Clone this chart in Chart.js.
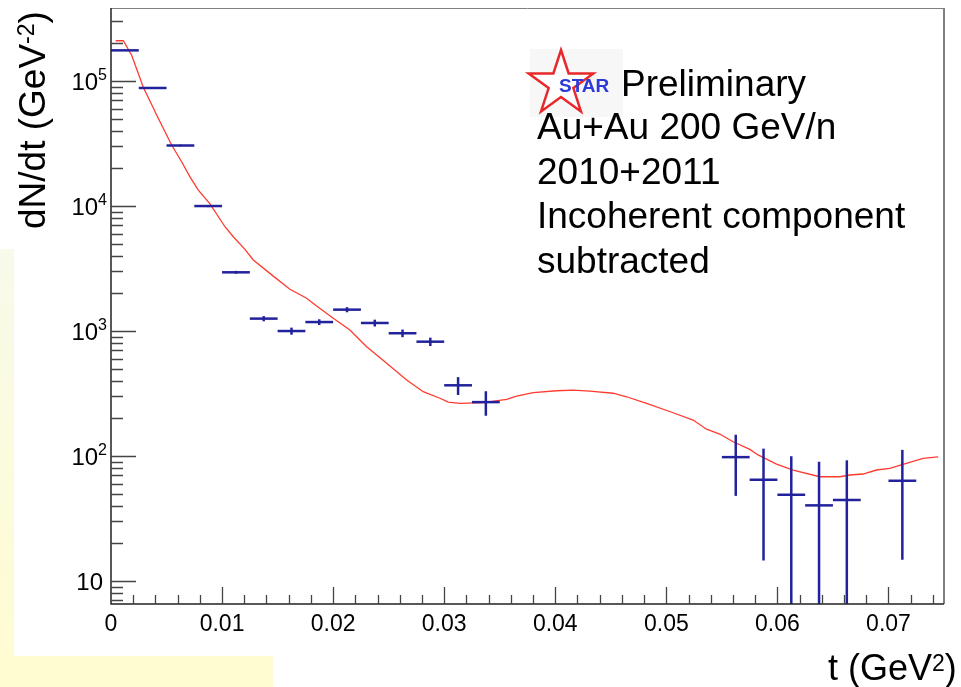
<!DOCTYPE html>
<html>
<head>
<meta charset="utf-8">
<script src="https://cdn.jsdelivr.net/npm/chart.js@4.4.1/dist/chart.umd.min.js"></script>
<style>
  body { margin: 0; background: #fff; }
</style>
</head>
<body>
<canvas id="myChart" width="961" height="687"></canvas>
<script>
// measured points: bin centre in t (GeV^2), dN/dt, symmetric error
const binCentres = [0.00125, 0.00375, 0.00625, 0.00875, 0.01125, 0.01375, 0.01625, 0.01875, 0.02125, 0.02375,
                    0.02625, 0.02875, 0.03125, 0.03375, 0.05625, 0.05875, 0.06125, 0.06375, 0.06625, 0.07125];
const binHalfWidth = 0.00125;
const counts = [176000, 88000, 30500, 10000, 2950, 1257, 1000, 1180, 1483, 1160,
                960, 822, 368, 270, 98, 64.6, 49, 40.3, 44.5, 63.4];
const countErrors = [2000, 1200, 500, 200, 80, 60, 65, 62, 70, 73,
                     67, 63, 60, 60, 50, 50, 50.6, 49.7, 47.9, 48.6];

// model curve (red)
const curveT = [0.00042, 0.00111, 0.00186, 0.00246, 0.00291, 0.00411, 0.00546, 0.00636, 0.00711, 0.00786,
                0.00891, 0.01026, 0.01101, 0.01206, 0.01281, 0.01461, 0.01611, 0.01761, 0.01851, 0.02001,
                0.02151, 0.02302, 0.02482, 0.02662, 0.02811, 0.02961, 0.03036, 0.03141, 0.03351, 0.03562,
                0.03652, 0.03801, 0.04012, 0.04161, 0.04311, 0.04521, 0.04642, 0.04822, 0.05061, 0.05241,
                0.05362, 0.05481, 0.05601, 0.05752, 0.05826, 0.05992, 0.06141, 0.06382, 0.06562, 0.06652,
                0.06771, 0.06892, 0.07012, 0.07131, 0.07311, 0.07447];
const curveY = [210000, 210000, 161000, 115000, 89000, 53500, 30800, 22600, 17100, 13400,
                10400, 6830, 5680, 4500, 3700, 2750, 2160, 1830, 1585, 1264,
                1019, 749, 552, 405, 327, 290, 270, 264, 267, 284,
                302, 321, 333, 337, 331, 318, 298, 264, 222, 194,
                164, 150, 130, 113, 102, 86.3, 77.3, 68.3, 68.3, 70.5,
                71.8, 77.3, 79.8, 85.9, 95.9, 98.6];

// axes
const xMin = 0, xMax = 0.075;
const yMin = 6.55, yMax = 384000;
const xMajorTicks = [0, 0.01, 0.02, 0.03, 0.04, 0.05, 0.06, 0.07];
const xTickLabels = ['0', '0.01', '0.02', '0.03', '0.04', '0.05', '0.06', '0.07'];
const xMinorStep = 0.002;
const yMajorTicks = [10, 100, 1000, 10000, 100000];
const yTickExponents = ['', '2', '3', '4', '5'];

const legendLines = ['Au+Au 200 GeV/n', '2010+2011', 'Incoherent component', 'subtracted'];

const blue = '#22229c';
const red = '#ff3b30';
const FONT = '"Liberation Sans", Arial, Helvetica, sans-serif';

// text with a raised part, e.g. 10^5 or GeV^2
function drawSup(c, base, sup, tail, x, y, size, supSize, raise, align) {
  c.font = size + 'px ' + FONT;
  const wb = c.measureText(base).width;
  const wt = c.measureText(tail).width;
  c.font = supSize + 'px ' + FONT;
  const ws = c.measureText(sup).width;
  let x0 = x;
  if (align === 'right') x0 = x - wb - ws - wt;
  c.textAlign = 'left';
  c.font = size + 'px ' + FONT;
  c.fillText(base, x0, y);
  c.font = supSize + 'px ' + FONT;
  c.fillText(sup, x0 + wb, y - size * raise);
  c.font = size + 'px ' + FONT;
  c.fillText(tail, x0 + wb + ws, y);
}

function drawStar(c, cx, cy, R, r) {
  c.beginPath();
  for (let i = 0; i < 10; i++) {
    const rad = -Math.PI / 2 + i * Math.PI / 5;
    const rr = i % 2 ? r : R;
    const px = cx + rr * Math.cos(rad), py = cy + rr * Math.sin(rad);
    if (i) c.lineTo(px, py); else c.moveTo(px, py);
  }
  c.closePath();
}

const rootStyle = {
  id: 'rootStyle',
  beforeDraw(chart) {
    const c = chart.ctx;
    c.save();
    c.fillStyle = '#fff';
    c.fillRect(0, 0, chart.width, chart.height);
    // yellow sticky note peeking out behind the plot
    const g = c.createLinearGradient(0, 249, 0, 687);
    g.addColorStop(0, '#f8faea');
    g.addColorStop(1, '#fffcd0');
    c.fillStyle = g;
    c.fillRect(0, 249, 273, 438);
    c.fillStyle = '#fff';
    c.fillRect(14, 0, chart.width - 14, 656);
    c.restore();
  },
  afterDatasetsDraw(chart) {
    const c = chart.ctx;
    const a = chart.chartArea;
    const xs = chart.scales.x, ys = chart.scales.y;

    // vertical error bars
    c.save();
    c.beginPath();
    c.rect(a.left, a.top, a.right - a.left, a.bottom - a.top);
    c.clip();
    c.strokeStyle = blue;
    c.lineWidth = 2.5;
    binCentres.forEach((t, i) => {
      const px = xs.getPixelForValue(t);
      const lo = Math.max(counts[i] - countErrors[i], 0);
      const hi = counts[i] + countErrors[i];
      c.beginPath();
      c.moveTo(px, ys.getPixelForValue(lo));
      c.lineTo(px, ys.getPixelForValue(hi));
      c.stroke();
    });
    c.restore();

    // frame
    c.save();
    c.strokeStyle = '#808080';
    c.lineWidth = 1;
    c.beginPath();
    c.moveTo(a.left, a.top + 0.5);
    c.lineTo(a.right, a.top + 0.5);
    c.stroke();
    c.lineWidth = 2;
    c.beginPath();
    c.moveTo(a.right, a.top);
    c.lineTo(a.right, a.bottom);
    c.stroke();
    c.strokeStyle = '#222';
    c.lineWidth = 1.5;
    c.beginPath();
    c.moveTo(a.left, a.top);
    c.lineTo(a.left, a.bottom);
    c.lineTo(a.right, a.bottom);
    c.stroke();

    // ticks, drawn inwards like ROOT
    c.strokeStyle = '#444';
    c.lineWidth = 1.3;
    c.beginPath();
    for (let e = 0; e <= 5; e++) {
      for (let m = 1; m <= 9; m++) {
        const v = m * Math.pow(10, e);
        if (v < yMin || v > yMax) continue;
        const py = Math.round(ys.getPixelForValue(v)) + 0.5;
        const len = m === 1 ? 25 : 12;
        c.moveTo(a.left, py);
        c.lineTo(a.left + len, py);
      }
    }
    const nMinor = Math.floor((xMax - xMin) / xMinorStep + 1e-9);
    for (let i = 1; i <= nMinor; i++) {
      const v = xMin + i * xMinorStep;
      const px = Math.round(xs.getPixelForValue(v)) + 0.5;
      const major = Math.abs(v / 0.01 - Math.round(v / 0.01)) < 1e-6;
      c.moveTo(px, a.bottom);
      c.lineTo(px, a.bottom - (major ? 17 : 9));
    }
    c.stroke();
    c.restore();
  },
  afterDraw(chart) {
    const c = chart.ctx;
    const a = chart.chartArea;
    const xs = chart.scales.x, ys = chart.scales.y;
    c.save();
    c.fillStyle = '#000';
    c.textBaseline = 'alphabetic';

    // tick labels
    yMajorTicks.forEach((v, i) => {
      const py = ys.getPixelForValue(v);
      const exp = yTickExponents[i];
      drawSup(c, '10', exp, '', exp ? 107 : 103, py + 9, 24, 16, 0.4, 'right');
    });
    c.font = '23px ' + FONT;
    c.textAlign = 'center';
    xMajorTicks.forEach((v, i) => {
      c.fillText(xTickLabels[i], xs.getPixelForValue(v), a.bottom + 27);
    });

    // axis titles
    drawSup(c, 't (GeV', '2', ')', 828, 680, 36, 23, 0.25, 'left');
    c.save();
    c.translate(45, 229);
    c.rotate(-Math.PI / 2);
    drawSup(c, 'dN/dt (GeV', '-2', ')', 0, 0, 37, 23, 0.3, 'left');
    c.restore();

    // STAR logo
    c.fillStyle = '#f7f7f7';
    c.fillRect(530, 49, 93, 68);
    drawStar(c, 561, 84, 34, 13);
    c.fillStyle = '#fff';
    c.fill();
    c.strokeStyle = '#e8282a';
    c.lineWidth = 2.5;
    c.stroke();
    c.fillStyle = '#2c3ad8';
    c.font = 'bold 19px ' + FONT;
    c.textAlign = 'left';
    c.fillText('STAR', 559, 92);

    c.fillStyle = '#000';
    c.font = '37px ' + FONT;
    c.fillText('Preliminary', 621, 96);
    legendLines.forEach((s, i) => c.fillText(s, 537, 139 + i * 44.7));
    c.restore();
  }
};

const ctx = document.getElementById('myChart');
new Chart(ctx, {
  type: 'scatter',
  data: {
    datasets: [{
      label: 'data',
      data: binCentres.map((t, i) => ({ x: t, y: counts[i] })),
      showLine: false,
      pointStyle: 'line',
      pointRadius: c => c.chart.scales.x.getPixelForValue(binHalfWidth) - c.chart.scales.x.getPixelForValue(0),
      pointHoverRadius: c => c.chart.scales.x.getPixelForValue(binHalfWidth) - c.chart.scales.x.getPixelForValue(0),
      borderColor: blue,
      backgroundColor: blue,
      pointBorderWidth: 2.5
    }, {
      label: 'model',
      type: 'line',
      data: curveT.map((t, i) => ({ x: t, y: curveY[i] })),
      borderColor: red,
      borderWidth: 1.3,
      pointRadius: 0,
      tension: 0
    }]
  },
  options: {
    responsive: false,
    animation: false,
    layout: { padding: { left: 111, right: 17, top: 8, bottom: 83 } },
    plugins: { legend: { display: false }, tooltip: { enabled: false } },
    scales: {
      x: {
        type: 'linear', min: xMin, max: xMax,
        grid: { display: false, drawTicks: false },
        border: { display: false },
        ticks: { display: false },
        afterFit: s => { s.height = 0; }
      },
      y: {
        type: 'logarithmic', min: yMin, max: yMax,
        grid: { display: false, drawTicks: false },
        border: { display: false },
        ticks: { display: false },
        afterFit: s => { s.width = 0; }
      }
    }
  },
  plugins: [rootStyle]
});
</script>
</body>
</html>
